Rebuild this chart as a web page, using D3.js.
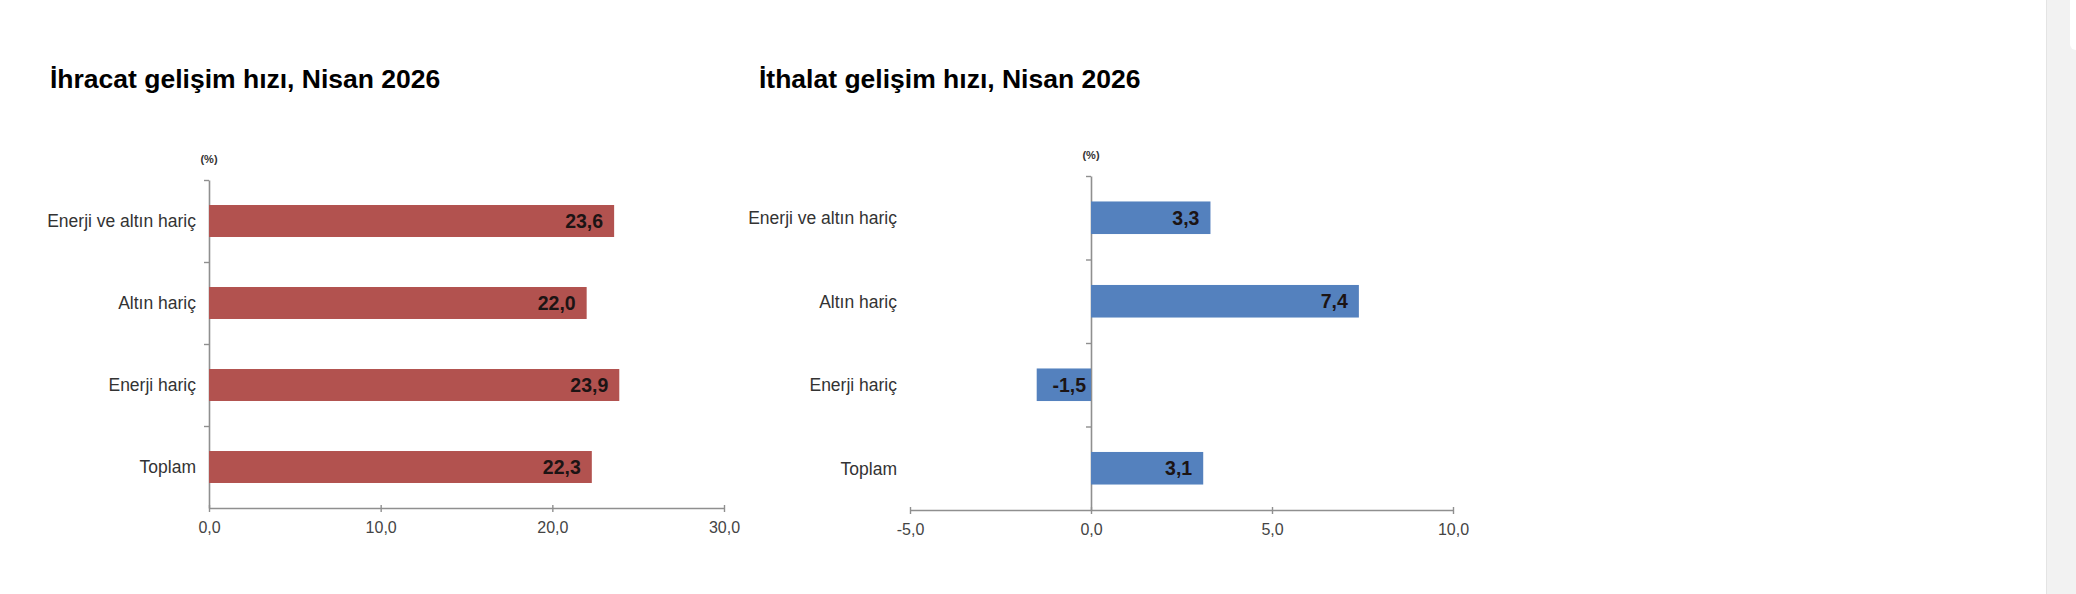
<!DOCTYPE html>
<html>
<head>
<meta charset="utf-8">
<script src="https://cdn.jsdelivr.net/npm/d3@7"></script>
<style>
  html, body { margin: 0; padding: 0; background: #fff; }
  svg text { font-family: "Liberation Sans", Arial, sans-serif; }
</style>
</head>
<body>
<div id="chart"></div>
<script>
// data
const categories = ["Enerji ve altın hariç", "Altın hariç", "Enerji hariç", "Toplam"];
const exportValues = [23.6, 22.0, 23.9, 22.3];
const importValues = [3.3, 7.4, -1.5, 3.1];
const exportTicks = [0, 10, 20, 30];
const importTicks = [-5, 0, 5, 10];
const titles = ["İhracat gelişim hızı, Nisan 2026", "İthalat gelişim hızı, Nisan 2026"];
const unitLabel = "(%)";

const W = 2076, H = 594;

// turkish style numbers: 22,3 and -1,5
const trFormat = d3.formatLocale({
    decimal: ",", thousands: ".", grouping: [3], currency: ["", ""], minus: "-"
}).format(".1f");

const svg = d3.select("#chart")
              .append("svg")
              .attr("width", W)
              .attr("height", H);

// draw one panel (title, axes, bars, labels)
function drawPanel(cfg) {
    const g = svg.append("g");

    g.append("text")
     .attr("x", cfg.titleX)
     .attr("y", 88)
     .style("font-size", "26.5px")
     .style("font-weight", "bold")
     .attr("fill", "#000")
     .text(cfg.title);

    const x = d3.scaleLinear()
                .domain(cfg.domain)
                .range(cfg.xRange);

    const y = d3.scaleBand()
                .domain(categories)
                .range(cfg.yRange)
                .paddingInner(0.61)
                .paddingOuter(0.305);

    // band boundaries for the small ticks on the value axis
    const yIdx = d3.scaleLinear()
                   .domain([0, categories.length])
                   .range(cfg.yRange);

    // x axis
    const xAxis = g.append("g")
                   .attr("transform", `translate(0,${cfg.yRange[1]})`)
                   .call(d3.axisBottom(x)
                           .tickValues(cfg.ticks)
                           .tickFormat(trFormat)
                           .tickSize(4)
                           .tickSizeOuter(0)
                           .tickPadding(10));
    xAxis.select(".domain").attr("stroke", "#8f8f8f").attr("stroke-width", 1.6);
    xAxis.selectAll(".tick line")
         .attr("y1", -3)
         .attr("stroke", "#8f8f8f")
         .attr("stroke-width", 1.4);
    xAxis.selectAll(".tick text")
         .attr("fill", "#444")
         .style("font-size", "16px")
         .style("font-family", "'Liberation Sans', Arial, sans-serif");

    // category axis at zero
    const yAxis = g.append("g")
                   .attr("transform", `translate(${x(0)},0)`)
                   .call(d3.axisLeft(yIdx)
                           .tickValues(d3.range(categories.length))
                           .tickFormat("")
                           .tickSize(5)
                           .tickSizeOuter(0));
    yAxis.select(".domain").attr("stroke", "#8f8f8f").attr("stroke-width", 1.6);
    yAxis.selectAll(".tick line").attr("stroke", "#8f8f8f").attr("stroke-width", 1.4);

    // (%) unit
    g.append("text")
     .attr("x", x(0))
     .attr("y", cfg.yRange[0] - 17)
     .attr("text-anchor", "middle")
     .style("font-size", "11px")
     .style("font-weight", "bold")
     .attr("fill", "#333")
     .text(unitLabel);

    // category labels, at left of plot area
    g.selectAll(".cat")
     .data(categories)
     .enter()
     .append("text")
     .attr("class", "cat")
     .attr("x", cfg.xRange[0] - 13)
     .attr("y", d => y(d) + y.bandwidth() / 2)
     .attr("dy", "0.36em")
     .attr("text-anchor", "end")
     .style("font-size", "17.5px")
     .attr("fill", "#333")
     .text(d => d);

    const rows = categories.map((c, i) => ({cat: c, value: cfg.values[i]}));

    g.selectAll(".bar")
     .data(rows)
     .enter()
     .append("rect")
     .attr("class", "bar")
     .attr("x", d => x(Math.min(0, d.value)))
     .attr("y", d => y(d.cat))
     .attr("width", d => Math.abs(x(d.value) - x(0)))
     .attr("height", y.bandwidth())
     .attr("fill", cfg.color);

    // value labels inside the bar end
    g.selectAll(".val")
     .data(rows)
     .enter()
     .append("text")
     .attr("class", "val")
     .attr("x", d => d.value >= 0 ? x(d.value) - 11 : x(0) - 5)
     .attr("y", d => y(d.cat) + y.bandwidth() / 2)
     .attr("dy", "0.36em")
     .attr("text-anchor", "end")
     .style("font-size", "19.5px")
     .style("font-weight", "bold")
     .attr("fill", "#1c1414")
     .text(d => trFormat(d.value));
}

drawPanel({
    title: titles[0], titleX: 50,
    values: exportValues, ticks: exportTicks,
    domain: [0, 30], xRange: [209, 724], yRange: [180, 508],
    color: "#B2524F"
});

drawPanel({
    title: titles[1], titleX: 759,
    values: importValues, ticks: importTicks,
    domain: [-5, 10], xRange: [910, 1453], yRange: [176, 510],
    color: "#5481BE"
});

// page scrollbar strip on the right edge
svg.append("rect")
   .attr("x", 2046).attr("y", 0)
   .attr("width", 30).attr("height", H)
   .attr("fill", "#f2f2f2");
svg.append("line")
   .attr("x1", 2046.5).attr("x2", 2046.5)
   .attr("y1", 0).attr("y2", H)
   .attr("stroke", "#e4e4e4");
svg.append("rect")
   .attr("x", 2070).attr("y", -10)
   .attr("width", 12).attr("height", 60)
   .attr("rx", 6)
   .attr("fill", "#fff");
</script>
</body>
</html>
